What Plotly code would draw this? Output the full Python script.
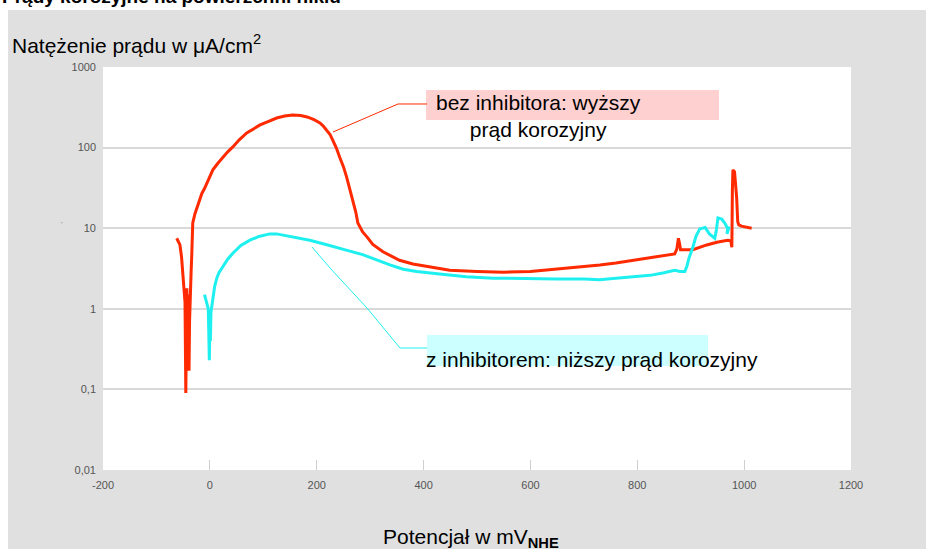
import plotly.graph_objects as go

# ---------------- data ----------------
red_x = [-62, -59, -56, -53, -51, -48, -46.5, -45, -44, -43, -42, -41, -40, -39, -38, -37, -36, -35, -34,
         -32, -28, -24, -20, -15, -10, -5.6, 0, 5.6, 15, 24, 33, 43, 55, 69, 80, 94, 110, 125, 140, 155,
         170, 182, 195, 206, 213, 219, 225, 230, 237, 243, 250, 256, 262, 268, 273, 277, 286, 294, 305,
         324, 340, 355, 380, 417, 449, 500, 550, 600, 650, 700, 730, 760, 792, 825, 855, 870, 874, 877,
         879, 881, 904, 930, 949, 969, 975, 977, 978, 979, 982, 984, 986, 988, 990, 995, 1014]
red_y = [7.5, 6.8, 6.2, 4.4, 3.0, 2.0, 1.2, 0.09, 0.8, 1.8, 0.6, 1.5, 0.5, 0.17, 0.7, 1.5, 2.1, 3.0, 4.4,
         11.6, 15, 18.3, 22, 27, 31, 36, 44, 53, 64, 76, 88, 102, 125, 152, 170, 191, 212, 233, 246, 254,
         250, 240, 222, 202, 183, 165, 145, 124, 98, 76, 58, 43, 31, 22, 16, 11.6, 9.0, 7.8, 6.3,
         5.1, 4.5, 4.0, 3.6, 3.3, 3.0, 2.9, 2.85, 2.9, 3.1, 3.3, 3.5, 3.7, 4.0, 4.3, 4.6, 4.8, 5.5, 7.5,
         6.5, 5.4, 5.4, 6.2, 6.7, 7.1, 7.0, 5.8, 30, 53, 50, 35, 24, 12, 11, 10.6, 10]

cyan_x = [-10, -8, -5, -3, -2, -1, 0, 1, 2, 4, 6, 9, 13, 17, 24, 33, 43, 58, 75, 92, 112, 125, 137,
          160, 187, 212, 238, 262, 286, 312, 337, 362, 387, 430, 480, 530, 600, 650, 700, 730, 760,
          792, 824, 850, 870, 880, 889, 893, 897, 904, 910, 917, 927, 935, 945, 948, 951, 958, 964,
          969, 968, 972]
cyan_y = [1.5, 1.3, 1.1, 1.0, 0.5, 0.23, 0.6, 0.4, 0.9, 1.1, 1.4, 1.9, 2.4, 2.8, 3.3, 4.1, 4.9, 6.1,
          7.1, 7.9, 8.5, 8.5, 8.2, 7.7, 7.1, 6.4, 5.8, 5.2, 4.7, 4.0, 3.5, 3.1, 2.9, 2.7, 2.5, 2.4,
          2.35, 2.35, 2.35, 2.3, 2.4, 2.5, 2.6, 2.8, 3.0, 2.9, 2.9, 3.4, 4.3, 5.8, 8.0, 9.8, 10.2, 8.5,
          7.5, 9.5, 13.4, 13.0, 11.5, 10.0, 8.5, 10.5]

x_tickvals = [-200, 0, 200, 400, 600, 800, 1000, 1200]
x_ticktext = ["-200", "0", "200", "400", "600", "800", "1000", "1200"]
y_tickvals = [0.01, 0.1, 1, 10, 100, 1000]
y_ticktext = ["0,01", "0,1", "1", "10", "100", "1000"]

title_text = "<b>Prądy korozyjne na powierzchni niklu</b>"
y_title = "Natężenie prądu w μA/cm<sup>2</sup>"
x_title = "Potencjał w mV<sub><b>NHE</b></sub>"
red_label = "bez inhibitora: wyższy<br>prąd korozyjny"
cyan_label = "z inhibitorem: niższy prąd korozyjny"

RED = "#ff2a00"
CYAN = "#1ef0f0"
FONT = "Liberation Sans, Arial, sans-serif"
TICKFONT = "Liberation Sans Narrow, Arial Narrow, Liberation Sans, sans-serif"

fig = go.Figure()
fig.add_trace(go.Scatter(x=red_x, y=red_y, mode="lines",
                         line=dict(color=RED, width=3), hoverinfo="skip"))
fig.add_trace(go.Scatter(x=cyan_x, y=cyan_y, mode="lines",
                         line=dict(color=CYAN, width=3), hoverinfo="skip"))

shapes = [
    # gray background panel
    dict(type="rect", xref="paper", yref="paper", x0=-0.127, x1=1.2, y0=-0.3, y1=1.1414,
         fillcolor="#e0e0e0", line=dict(width=0), layer="below"),
    # white plot area
    dict(type="rect", xref="paper", yref="paper", x0=0, x1=1, y0=0, y1=1,
         fillcolor="white", line=dict(width=0), layer="below"),
    # pink label box
    dict(type="rect", xref="paper", yref="paper", x0=0.4318, x1=0.8235, y0=0.8685, y1=0.9429,
         fillcolor="#ffd0d0", line=dict(width=0), layer="below"),
    # cyan label box
    dict(type="rect", xref="paper", yref="paper", x0=0.4332, x1=0.8088, y0=0.2581, y1=0.335,
         fillcolor="#ccffff", line=dict(width=0), layer="below"),
    # red leader
    dict(type="path", xref="paper", yref="paper",
         path="M 0.3075 0.8387 L 0.3944 0.9082 L 0.4332 0.9082",
         line=dict(color=RED, width=1)),
    # cyan leader
    dict(type="path", xref="paper", yref="paper",
         path="M 0.2794 0.5533 L 0.3035 0.5012 L 0.3529 0.402 L 0.3971 0.3027 L 0.4332 0.3027",
         line=dict(color=CYAN, width=1)),
]

annotations = [
    dict(text=title_text, xref="paper", yref="paper", x=-0.1377, y=1.175,
         xanchor="left", yanchor="middle", showarrow=False,
         font=dict(family=FONT, size=19, color="black")),
    dict(text=y_title, xref="paper", yref="paper", x=-0.1243, y=1.0571,
         xanchor="left", yanchor="middle", showarrow=False,
         font=dict(family=FONT, size=21, color="black")),
    dict(text=x_title, xref="paper", yref="paper", x=0.492, y=-0.1687,
         xanchor="center", yanchor="middle", showarrow=False,
         font=dict(family=FONT, size=21, color="black")),
    dict(text=red_label, xref="paper", yref="paper", x=0.5816, y=0.8772,
         xanchor="center", yanchor="middle", align="center", showarrow=False,
         font=dict(family=FONT, size=21, color="black")),
    dict(text=cyan_label, xref="paper", yref="paper", x=0.4285, y=0.273,
         xanchor="left", yanchor="middle", showarrow=False,
         font=dict(family=FONT, size=21, color="black")),
    dict(text="'", xref="paper", yref="paper", x=-0.0548, y=0.6104,
         xanchor="center", yanchor="middle", showarrow=False,
         font=dict(family=FONT, size=8, color="#888")),
]

fig.update_layout(
    width=926, height=549,
    margin=dict(l=103, r=75, t=67, b=79),
    paper_bgcolor="white",
    plot_bgcolor="rgba(0,0,0,0)",
    showlegend=False,
    shapes=shapes,
    annotations=annotations,
    xaxis=dict(range=[-200, 1200], tickvals=x_tickvals, ticktext=x_ticktext,
               showgrid=False, zeroline=False, showline=False,
               ticks="inside", ticklen=10, tickcolor="#cfcfcf", tickwidth=1,
               ticklabelstandoff=7,
               tickfont=dict(family=TICKFONT, size=11, color="#555")),
    yaxis=dict(type="log", range=[-2, 3], tickvals=y_tickvals, ticktext=y_ticktext,
               showgrid=True, gridcolor="#d9d9d9", gridwidth=1.5,
               zeroline=False, showline=False, ticks="",
               ticklabelstandoff=6,
               tickfont=dict(family=TICKFONT, size=11, color="#555")),
)

fig.write_html("out.html", config={"displayModeBar": False},
               post_script="document.body.style.margin='0';document.body.style.overflow='hidden';")
